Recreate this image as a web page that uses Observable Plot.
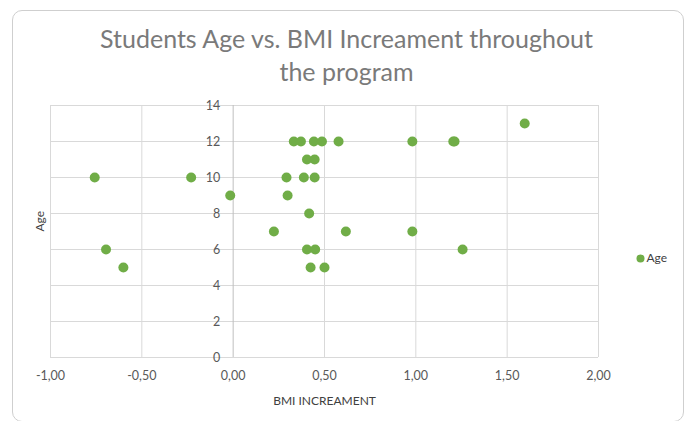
<!DOCTYPE html>
<html>
<head>
<meta charset="utf-8">
<script src="https://cdn.jsdelivr.net/npm/d3@7"></script>
<script src="https://cdn.jsdelivr.net/npm/@observablehq/plot@0.6"></script>
<style>
  body { margin: 0; background: #fff; }
  #wrap { position: relative; width: 692px; height: 421px; overflow: hidden; }
  #border { position: absolute; left: 12px; top: 10px; width: 672px; height: 412px; border: 1px solid #cfcfcf; border-radius: 10px; box-sizing: border-box; }
  #chart { position: absolute; left: 0; top: 0; }
</style>
</head>
<body>
<div id="wrap"><div id="border"></div><div id="chart"></div></div>
<script>
const bmiIncrement = [-0.758, -0.696, -0.601, -0.230, -0.016, 0.223, 0.292, 0.298, 0.332, 0.371, 0.387, 0.404, 0.446, 0.446, 0.416, 0.404, 0.449, 0.424, 0.500, 0.442, 0.486, 0.577, 0.617, 0.981, 1.205, 1.212, 0.981, 1.256, 1.596];
const age          = [10, 6, 5, 10, 9, 7, 10, 9, 12, 12, 10, 11, 11, 10, 8, 6, 6, 5, 5, 12, 12, 12, 7, 12, 12, 12, 7, 6, 13];
const xTicks = [-1, -0.5, 0, 0.5, 1, 1.5, 2];
const yTicks = [0, 2, 4, 6, 8, 10, 12, 14];
const seriesName = "Age";
const titleLines = ["Students Age vs. BMI Increament throughout", "the program"];
const xLabel = "BMI INCREAMENT";
const yLabel = "Age";

const data = bmiIncrement.map((x, i) => ({x, y: age[i]}));
const font = "Lato, 'Open Sans', sans-serif";
const grid = "#d9d9d9";
const green = "#70ad47";
const textCol = "#595959";

const chart = Plot.plot({
  width: 692,
  height: 421,
  marginLeft: 50,
  marginRight: 94,
  marginTop: 105,
  marginBottom: 64,
  style: {fontFamily: font, fontSize: "12px", color: textCol, background: "transparent", overflow: "visible"},
  x: {domain: [-1, 2], axis: null},
  y: {domain: [0, 14], axis: null},
  marks: [
    Plot.ruleX(xTicks.filter(d => d !== 0), {stroke: grid, strokeWidth: 1}),
    Plot.ruleY(yTicks, {stroke: grid, strokeWidth: 1}),
    Plot.ruleX([0], {stroke: "#bfbfbf", strokeWidth: 1}),
    Plot.text(xTicks, {x: d => d, frameAnchor: "bottom", dy: 22, text: d => d.toFixed(2).replace(".", ","), fill: textCol, fontSize: 12.5}),
    Plot.text(yTicks, {x: 0, y: d => d, dx: -13, textAnchor: "end", text: d => String(d), fill: textCol, fontSize: 12.5}),
    Plot.dot(data, {x: "x", y: "y", r: 5, fill: green, stroke: null}),
    Plot.text([titleLines[0]], {frameAnchor: "top", lineAnchor: "middle", dx: 22, dy: -66, text: d => d, fontSize: 25, fill: "#7a7a7a"}),
    Plot.text([titleLines[1]], {frameAnchor: "top", lineAnchor: "middle", dx: 22, dy: -33, text: d => d, fontSize: 25, fill: "#7a7a7a"}),
    Plot.text([xLabel], {frameAnchor: "bottom", dy: 47, text: d => d, fontSize: 12, fill: "#404040"}),
    Plot.text([yLabel], {frameAnchor: "left", dx: -10, rotate: -90, text: d => d, fontSize: 12, fill: "#404040"}),
    Plot.dot([seriesName], {frameAnchor: "right", dx: 42, dy: 27, r: 4, fill: green, stroke: null}),
    Plot.text([seriesName], {frameAnchor: "right", dx: 48, dy: 27, textAnchor: "start", text: d => d, fontSize: 12, fill: "#404040"})
  ]
});
document.getElementById("chart").appendChild(chart);
</script>
</body>
</html>
